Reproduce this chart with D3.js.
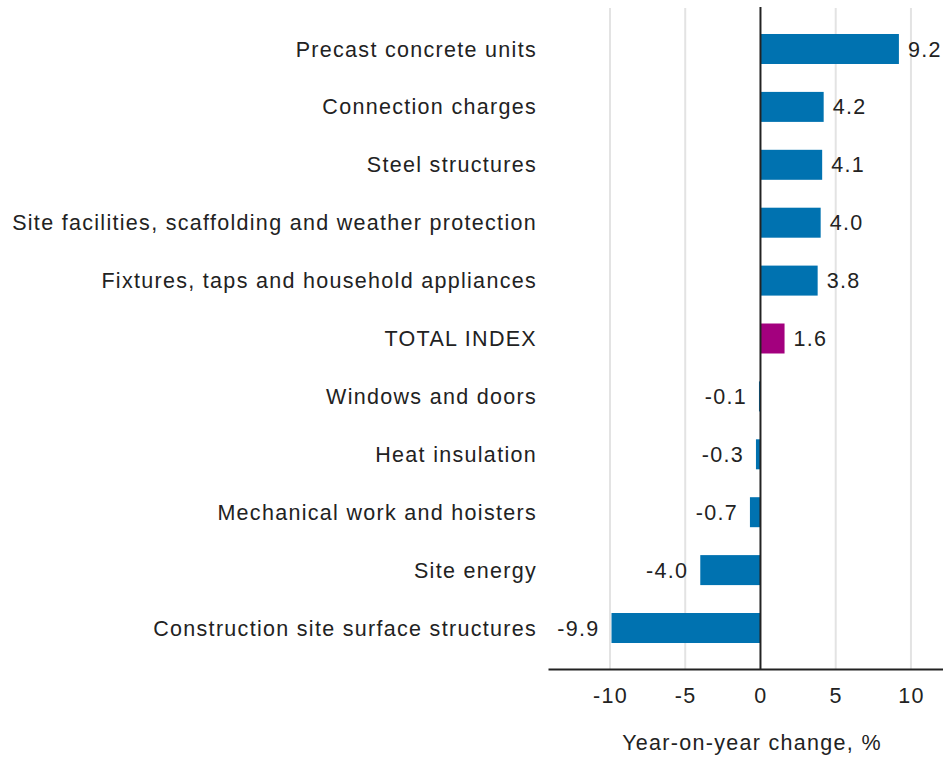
<!DOCTYPE html>
<html>
<head>
<meta charset="utf-8">
<script src="https://cdn.jsdelivr.net/npm/d3@7"></script>
<style>
	body { margin: 0; background: #fff; }
	text { font-family: "Liberation Sans", Arial, sans-serif; fill: #222; }
</style>
</head>
<body>
<div class="content"></div>
<script>
(function() {
	var categories = [
		"Precast concrete units",
		"Connection charges",
		"Steel structures",
		"Site facilities, scaffolding and weather protection",
		"Fixtures, taps and household appliances",
		"TOTAL INDEX",
		"Windows and doors",
		"Heat insulation",
		"Mechanical work and hoisters",
		"Site energy",
		"Construction site surface structures"
	];
	var values = [9.2, 4.2, 4.1, 4.0, 3.8, 1.6, -0.1, -0.3, -0.7, -4.0, -9.9];
	var ticks = [-10, -5, 0, 5, 10];
	var highlight = "TOTAL INDEX";

	var width = 943, height = 758;
	var fontSize = "21.5px", spacing = "1.3px";

	var svg = d3.select(".content")
		.append("svg")
		.attr("width", width)
		.attr("height", height);

	var x = d3.scaleLinear()
		.domain([-14.12, 12.13])
		.range([548, 943]);

	var y = d3.scaleBand()
		.domain(categories)
		.range([8, 669])
		.paddingInner(0.482)
		.paddingOuter(0.449);

	// grid lines
	svg.append("g")
		.selectAll("line")
		.data(ticks.filter(function(t) { return t != 0; }))
		.enter().append("line")
		.attr("x1", function(d) { return x(d); })
		.attr("x2", function(d) { return x(d); })
		.attr("y1", 8)
		.attr("y2", 669)
		.attr("stroke", "#e3e3e3")
		.attr("stroke-width", 2);

	// bars
	svg.append("g")
		.selectAll("rect")
		.data(values)
		.enter().append("rect")
		.attr("x", function(d) { return x(Math.min(0, d)); })
		.attr("y", function(d, i) { return y(categories[i]); })
		.attr("width", function(d) { return Math.abs(x(d) - x(0)); })
		.attr("height", y.bandwidth())
		.attr("fill", function(d, i) { return categories[i] == highlight ? "#a3007e" : "#0072b0"; });

	// value labels
	svg.append("g")
		.selectAll("text")
		.data(values)
		.enter().append("text")
		.text(function(d) { return d.toFixed(1); })
		.attr("x", function(d) { return d >= 0 ? x(d) + 9 : x(d) - 12; })
		.attr("y", function(d, i) { return y(categories[i]) + y.bandwidth() / 2; })
		.attr("dy", "0.35em")
		.attr("text-anchor", function(d) { return d >= 0 ? "start" : "end"; })
		.style("font-size", fontSize)
		.style("letter-spacing", spacing);

	// category labels
	svg.append("g")
		.selectAll("text")
		.data(categories)
		.enter().append("text")
		.text(function(d) { return d; })
		.attr("x", 537)
		.attr("y", function(d) { return y(d) + y.bandwidth() / 2; })
		.attr("dy", "0.35em")
		.attr("text-anchor", "end")
		.style("font-size", fontSize)
		.style("letter-spacing", spacing);

	// zero line
	svg.append("line")
		.attr("x1", x(0))
		.attr("x2", x(0))
		.attr("y1", 7)
		.attr("y2", 669)
		.attr("stroke", "#222")
		.attr("stroke-width", 2);

	// x axis
	var axis = svg.append("g")
		.attr("transform", "translate(0,669)")
		.call(d3.axisBottom(x).tickValues(ticks).tickSize(0).tickPadding(19)
			.tickFormat(function(d) { return String(d); }));
	axis.select(".domain").attr("stroke", "#222").attr("stroke-width", 2);
	axis.selectAll("text")
		.style("font-size", fontSize)
		.style("letter-spacing", spacing)
		.attr("fill", "#222")
		.style("font-family", "'Liberation Sans', Arial, sans-serif");

	svg.append("text")
		.text("Year-on-year change, %")
		.attr("x", 752)
		.attr("y", 742)
		.attr("dy", "0.35em")
		.attr("text-anchor", "middle")
		.style("font-size", fontSize)
		.style("letter-spacing", spacing);
}());
</script>
</body>
</html>
